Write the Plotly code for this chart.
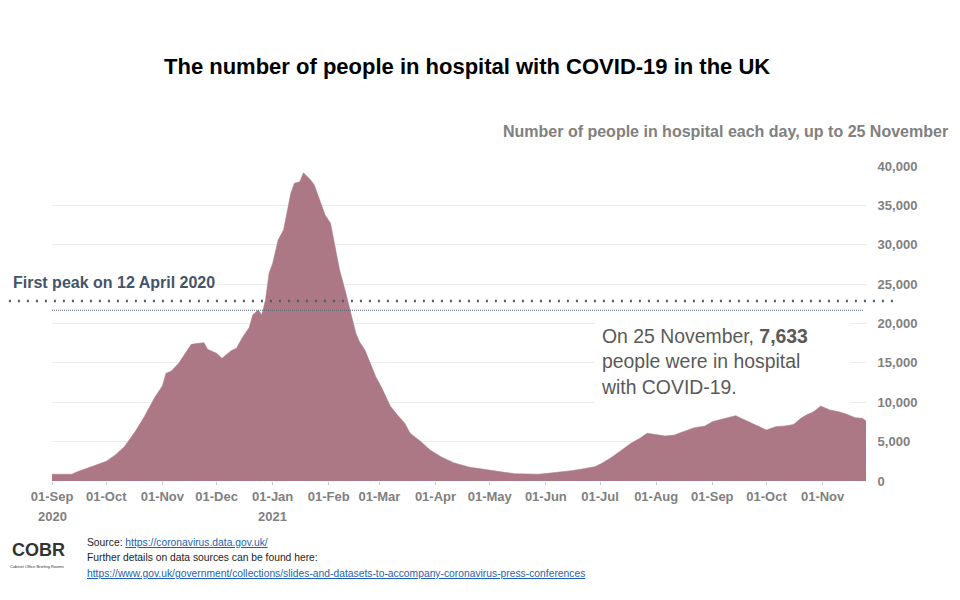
import plotly.graph_objects as go

# ---------------- data ----------------
dates = [
    "2020-09-01", "2020-09-06", "2020-09-10", "2020-09-12", "2020-09-15", "2020-09-21",
    "2020-09-26", "2020-10-01", "2020-10-06", "2020-10-11", "2020-10-17", "2020-10-22",
    "2020-10-28", "2020-11-01", "2020-11-03", "2020-11-06", "2020-11-10", "2020-11-13",
    "2020-11-17", "2020-11-21", "2020-11-24", "2020-11-26", "2020-11-29", "2020-12-01",
    "2020-12-04", "2020-12-07", "2020-12-09", "2020-12-12", "2020-12-15", "2020-12-19",
    "2020-12-21", "2020-12-24", "2020-12-26", "2020-12-28", "2020-12-30", "2021-01-01",
    "2021-01-04", "2021-01-07", "2021-01-11", "2021-01-13", "2021-01-16", "2021-01-18",
    "2021-01-20", "2021-01-22", "2021-01-24", "2021-01-27", "2021-01-30", "2021-02-02",
    "2021-02-05", "2021-02-07", "2021-02-10", "2021-02-13", "2021-02-16", "2021-02-18",
    "2021-02-21", "2021-02-24", "2021-02-27", "2021-03-02", "2021-03-04", "2021-03-07",
    "2021-03-11", "2021-03-15", "2021-03-18", "2021-03-24", "2021-03-29", "2021-04-04",
    "2021-04-11", "2021-04-20", "2021-04-26", "2021-04-30", "2021-05-07", "2021-05-09",
    "2021-05-15", "2021-05-24", "2021-05-28", "2021-06-02", "2021-06-06", "2021-06-11",
    "2021-06-15", "2021-06-21", "2021-06-24", "2021-06-28", "2021-07-02", "2021-07-07",
    "2021-07-13", "2021-07-18", "2021-07-23", "2021-07-27", "2021-07-31", "2021-08-06",
    "2021-08-11", "2021-08-17", "2021-08-22", "2021-08-28", "2021-09-01", "2021-09-06",
    "2021-09-11", "2021-09-14", "2021-09-19", "2021-09-25", "2021-09-29", "2021-10-01",
    "2021-10-06", "2021-10-11", "2021-10-16", "2021-10-20", "2021-10-23", "2021-10-27",
    "2021-10-31", "2021-11-05", "2021-11-10", "2021-11-14", "2021-11-19", "2021-11-23",
    "2021-11-25",
]
patients = [
    850, 880, 910, 870, 1180, 1690,
    2120, 2500, 3300, 4360, 6270, 8170,
    10710, 12060, 13670, 13970, 14940, 16000,
    17350, 17480, 17560, 16720, 16420, 16210,
    15580, 16130, 16550, 16850, 18120, 19500,
    21100, 21710, 21100, 22980, 26370, 27640,
    30600, 31870, 36530, 37800, 38010, 39150,
    38700, 38220, 37590, 35680, 33780, 32720,
    29330, 26790, 24250, 21290, 18750, 17690,
    16630, 14940, 13250, 11970, 10920, 9520,
    8380, 7330, 6060, 5000, 3940, 3090,
    2330, 1740, 1550, 1400, 1180, 1100,
    930, 850, 870, 970, 1050, 1180,
    1310, 1520, 1610, 1820, 2250, 2950,
    3940, 4790, 5420, 6060, 5930, 5710,
    5840, 6350, 6770, 6980, 7530, 7830,
    8170, 8300, 7750, 7110, 6690, 6480,
    6900, 6980, 7190, 7960, 8380, 8800,
    9520, 9020, 8800, 8510, 8040, 7960,
    7633,
]
month_ticks = [
    "2020-09-01", "2020-10-01", "2020-11-01", "2020-12-01", "2021-01-01",
    "2021-02-01", "2021-03-01", "2021-04-01", "2021-05-01", "2021-06-01",
    "2021-07-01", "2021-08-01", "2021-09-01", "2021-10-01", "2021-11-01",
]
month_labels = [
    "01-Sep", "01-Oct", "01-Nov", "01-Dec", "01-Jan", "01-Feb", "01-Mar", "01-Apr",
    "01-May", "01-Jun", "01-Jul", "01-Aug", "01-Sep", "01-Oct", "01-Nov",
]
year_ticks = ["2020-09-01", "2021-01-01"]
year_labels = ["2020", "2021"]
y_ticks = [0, 5000, 10000, 15000, 20000, 25000, 30000, 35000, 40000]
first_peak_value = 21683
latest_value = 7633

# ---------------- styling ----------------
FONT = "Liberation Sans, Arial, sans-serif"
BAR = "#ad7886"
GREY = "#808080"

fig = go.Figure()
fig.add_trace(go.Scatter(
    x=dates, y=patients, mode="lines",
    line=dict(width=0.5, color=BAR),
    fill="tozeroy", fillcolor=BAR, hoverinfo="skip", showlegend=False,
))

fig.update_layout(
    width=960, height=600,
    margin=dict(l=44, r=102, t=158, b=127),
    paper_bgcolor="white", plot_bgcolor="white",
    font=dict(family=FONT),
    showlegend=False,
    xaxis=dict(
        range=["2020-09-01", "2021-11-25"],
        tickmode="array", tickvals=month_ticks, ticktext=month_labels,
        tickfont=dict(size=13, color=GREY, weight="bold", family=FONT),
        ticks="outside", ticklen=3, tickcolor="#c8c8c8", tickwidth=1,
        showgrid=False, zeroline=False, showline=False,
    ),
    yaxis=dict(
        side="right", range=[0, 40000],
        tickmode="array", tickvals=y_ticks, tickformat=",",
        tickfont=dict(size=13, color=GREY, weight="bold", family=FONT),
        showgrid=True, gridcolor="#ececec", gridwidth=1,
        zeroline=False, showline=False,
        ticks="outside", ticklen=8, tickcolor="rgba(0,0,0,0)",
    ),
)

shapes = [
    # leader line under the "First peak" label
    dict(type="line", xref="paper", yref="y", x0=-0.064, x1=1.038,
         y0=22857, y1=22857, line=dict(color="#555a66", width=2.5, dash="2px,7px"),
         layer="above"),
    # first-peak level
    dict(type="line", xref="paper", yref="y", x0=0.0, x1=0.9975,
         y0=first_peak_value, y1=first_peak_value,
         line=dict(color="#5a6270", width=1, dash="1px,1px"), layer="above"),
]
fig.update_layout(shapes=shapes)

ann = []
ann.append(dict(
    text="<b>The number of people in hospital with COVID-19 in the UK</b>",
    xref="paper", yref="paper", x=0.5098, y=1.3143, xanchor="center", yanchor="middle",
    showarrow=False, font=dict(size=22, color="black", family=FONT),
))
ann.append(dict(
    text="<b>Number of people in hospital each day, up to 25 November</b>",
    xref="paper", yref="paper", x=1.1032, y=1.108, xanchor="right", yanchor="middle",
    showarrow=False, font=dict(size=16, color=GREY, family=FONT),
))
ann.append(dict(
    text="<b>First peak on 12 April 2020</b>",
    xref="paper", yref="paper", x=-0.0504, y=0.6286, xanchor="left", yanchor="middle",
    showarrow=False, bgcolor="white", borderpad=1,
    font=dict(size=16, color="#44546a", family=FONT),
))
ann.append(dict(
    text=f"On 25 November, <b>{latest_value:,}</b><br>people were in hospital<br>with COVID-19.",
    xref="paper", yref="paper", x=0.666, y=0.3794, xanchor="left", yanchor="middle",
    width=242, height=75, align="left", valign="middle", borderpad=6,
    showarrow=False, bgcolor="white",
    font=dict(size=19.4, color="#595959", family=FONT),
))
for xv, lab in zip(year_ticks, year_labels):
    ann.append(dict(
        text=f"<b>{lab}</b>", xref="x", yref="paper", x=xv, y=-0.112,
        xanchor="center", yanchor="middle", showarrow=False,
        font=dict(size=13, color=GREY, family=FONT),
    ))
# logo & sources
ann.append(dict(
    text="<b>COBR</b>", xref="paper", yref="paper", x=-0.0505, y=-0.219,
    xanchor="left", yanchor="middle", showarrow=False, borderpad=0,
    font=dict(size=18, color="#333333", family=FONT),
))
ann.append(dict(
    text="Cabinet Office Briefing Rooms", xref="paper", yref="paper", x=-0.0525, y=-0.272,
    xanchor="left", yanchor="middle", showarrow=False, borderpad=0,
    font=dict(size=4, color="#333333", family=FONT),
))
LINK = "#1f5fb0"
src_lines = [
    ("Source: <span style='color:%s'><u>https://coronavirus.data.gov.uk/</u></span>" % LINK, -0.1968),
    ("Further details on data sources can be found here:", -0.2444),
    ("<span style='color:%s'><u>https://www.gov.uk/government/collections/slides-and-datasets-to-accompany-coronavirus-press-conferences</u></span>" % LINK, -0.2921),
]
for txt, yv in src_lines:
    ann.append(dict(
        text=txt, xref="paper", yref="paper", x=0.0405, y=yv,
        xanchor="left", yanchor="middle", showarrow=False,
        font=dict(size=10.3, color="#222222", family=FONT),
    ))
fig.update_layout(annotations=ann)

fig.write_html("out.html")
